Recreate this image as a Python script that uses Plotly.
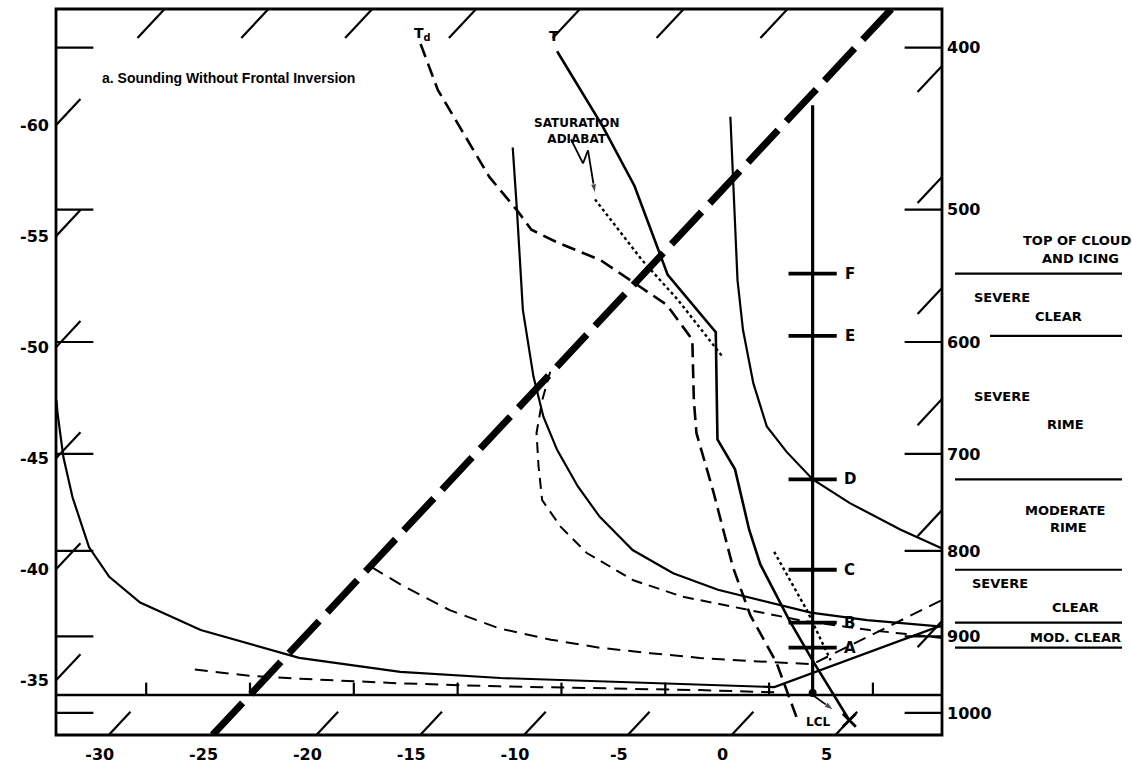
import numpy as np
import plotly.graph_objects as go

# ---------------------------------------------------------------------------
# Diagram frame: log-pressure vertical scale (hPa), skewed temperature scale
# (deg C, read on the bottom edge of the frame).
# ---------------------------------------------------------------------------
P_BOTTOM, P_TOP = 1030.8, 379.3
P_SURFACE = 975.5
SKEW = 32.7                       # isotherm displacement, deg C per ln(p)
X_LEFT, X_RIGHT = -32.54, 10.13   # bottom-scale temperature at the frame edges

# ---- sounding: temperature ----
temp_p = [402, 446, 484, 525, 547, 592, 686, 715, 777, 815, 880, 933, 1010]
temp_t = [-39.2, -33.6, -29.4, -25.7, -23.8, -18.9, -14.0, -11.8, -8.4, -6.3, -2.4, 0.7, 5.0]

# ---- sounding: dew point ----
dew_p = [398, 424, 446, 478, 501, 514, 523, 536, 570, 598, 650, 680, 738, 818, 874, 933, 1012]
dew_t = [-46.1, -43.2, -40.5, -36.8, -33.9, -32.4, -30.6, -27.7, -22.5, -19.7, -16.9,
         -15.3, -11.8, -7.5, -4.5, -1.1, 2.6]

# ---- saturation adiabat (dotted) and its lower branch ----
sat_p = [493, 536, 566, 613]
sat_t = [-30.7, -25.7, -22.2, -17.4]
dry_p = [801, 868, 930]
dry_t = [-6.2, -2.0, 1.4]

# ---- process curves ----
curve_a_p = [440, 493, 551, 590, 635, 674, 698, 725, 749, 777, 797]
curve_a_t = [-27.9, -24.0, -20.2, -17.7, -14.8, -12.2, -10.1, -7.6, -4.75, -1.1, 1.7]

curve_b_p = [459, 500, 574, 629, 665, 696, 732, 763, 799, 825, 844, 859, 871, 880, 888]
curve_b_t = [-37.0, -34.0, -29.2, -25.7, -23.4, -21.25, -18.6, -16.2, -13.1, -10.1, -7.2,
             -4.2, -1.7, 1.35, 5.3]

curve_c_p = [625, 650, 680, 712, 746, 774, 802, 833, 852, 864, 880, 892, 902]
curve_c_t = [-25.1, -24.2, -23.0, -21.4, -19.7, -17.6, -15.2, -11.7, -8.6, -5.7, -1.9, 1.9, 5.8]

curve_d_p = [818, 838, 868, 890, 904, 914, 921, 927, 931, 935, 856]
curve_d_t = [-24.9, -22.7, -19.2, -16.0, -13.0, -10.3, -7.6, -5.0, -2.4, 0.7, 4.05]

curve_e_p = [650, 661, 703, 743, 796, 829, 859, 892, 927, 945, 953, 957, 961, 965, 886]
curve_e_t = [-47.6, -47.0, -44.7, -42.45, -39.4, -37.1, -34.45, -30.3, -24.3, -18.8, -13.7,
             -8.8, -3.8, -0.1, 5.2]

curve_f_p = [942, 950, 954, 960, 964, 966, 969, 972]
curve_f_t = [-28.8, -25.9, -23.3, -18.3, -13.4, -8.5, -3.55, 0.16]

# ---- icing levels on the reference column ----
column_u = 3.9
column_top_p = 433
lcl_p = 973
level_names = ["F", "E", "D", "C", "B", "A"]
level_p = [546, 595, 725, 821, 883, 914]

# ---- scale labels ----
isobars = [400, 500, 600, 700, 800, 900, 1000]
bottom_ticks = [-30, -25, -20, -15, -10, -5, 0, 5]
left_ticks = [-60, -55, -50, -45, -40, -35]
top_strokes = [-60, -55, -50, -45, -40, -35, -30]
right_strokes = [-20, -15, -10, -5, 0, 5]
heavy_isotherm = -25

# ---- page geometry ----
W, H, ML, MT = 1132, 767, 56, 9
PW, PH = 886, 726
U_PER_PX = (X_RIGHT - X_LEFT) / PW
LN_PER_PX = np.log(P_BOTTOM / P_TOP) / PH


def sx(t, p):
    """Skewed x position of temperature t at pressure p."""
    return np.asarray(t, float) + SKEW * np.log(P_BOTTOM / np.asarray(p, float))


def p_at_edge(t, x_edge):
    """Pressure where isotherm t meets a vertical frame edge."""
    return P_BOTTOM * np.exp(-(x_edge - t) / SKEW)


def paper_y(p):
    return (np.log(P_BOTTOM) - np.log(p)) / (np.log(P_BOTTOM) - np.log(P_TOP))


def offset(u, p, dx, dy):
    """Point displaced dx pixels right and dy pixels up from (u, p)."""
    return u + dx * U_PER_PX, p * np.exp(-dy * LN_PER_PX)


def px(x, y):
    return (x - ML) / PW, (MT + PH - y) / PH


fig = go.Figure()


def add_line(x, y, width=2.2, dash="solid", yaxis="y"):
    fig.add_trace(go.Scatter(
        x=list(x), y=list(y), mode="lines", yaxis=yaxis,
        line=dict(color="black", width=width, dash=dash),
        hoverinfo="skip", showlegend=False))


def add_arrow(points, width=1.8, head=10):
    xs = [q[0] for q in points]
    ys = [q[1] for q in points]
    fig.add_trace(go.Scatter(
        x=xs, y=ys, mode="lines+markers",
        line=dict(color="black", width=width),
        marker=dict(symbol="arrow", angleref="previous", color="black",
                    size=[0] * (len(points) - 1) + [head]),
        hoverinfo="skip", showlegend=False))


def segments(pairs):
    xs, ys = [], []
    for (x0, x1), (p0, p1) in pairs:
        xs += [x0, x1, None]
        ys += [p0, p1, None]
    return xs, ys


# isotherm strokes along the frame
pairs = []
for t in top_strokes:
    ps = [P_TOP, P_TOP * np.exp(0.040)]
    pairs.append((sx([t, t], ps), ps))
for t in right_strokes:
    p0 = p_at_edge(t, X_RIGHT)
    ps = [p0, p0 * np.exp(0.036)]
    pairs.append((sx([t, t], ps), ps))
for t in bottom_ticks:
    ps = [P_BOTTOM, P_BOTTOM * np.exp(-0.032)]
    pairs.append((sx([t, t], ps), ps))
for t in bottom_ticks:
    xs0 = float(sx(t, P_SURFACE))
    pairs.append(([xs0, xs0], [P_SURFACE, P_SURFACE * np.exp(-0.017)]))
add_line(*segments(pairs), width=2.2)

left_pairs = []
for t in left_ticks:
    p0 = p_at_edge(t, X_LEFT)
    ps = [p0, p0 * np.exp(-0.036)]
    left_pairs.append((sx([t, t], ps), ps))
add_line(*segments(left_pairs), width=2.2, yaxis="y2")

# isobar stubs on both edges
stub = 1.8
pairs = []
for p in isobars:
    pairs.append(([X_LEFT, X_LEFT + stub], [p, p]))
    pairs.append(([X_RIGHT - stub, X_RIGHT], [p, p]))
add_line(*segments(pairs), width=2.2)

# surface line
add_line([X_LEFT, X_RIGHT], [P_SURFACE, P_SURFACE], width=2.5)

# heavy isotherm
add_line(sx([heavy_isotherm] * 2, [P_BOTTOM, P_TOP]), [P_BOTTOM, P_TOP],
         width=7, dash="44px,12px")

# process curves
add_line(sx(curve_a_t, curve_a_p), curve_a_p, width=2.2)
add_line(sx(curve_b_t, curve_b_p), curve_b_p, width=2.2)
add_line(sx(curve_c_t, curve_c_p), curve_c_p, width=2.0, dash="11px,7px")
add_line(sx(curve_d_t, curve_d_p), curve_d_p, width=2.0, dash="13px,8px")
add_line(sx(curve_e_t, curve_e_p), curve_e_p, width=2.2)
add_line(sx(curve_f_t, curve_f_p), curve_f_p, width=2.0, dash="13px,8px")

# saturation adiabat
add_line(sx(sat_t, sat_p), sat_p, width=2.4, dash="dot")
add_line(sx(dry_t, dry_p), dry_p, width=2.4, dash="dot")

# sounding
add_line(sx(dew_t, dew_p), dew_p, width=2.6, dash="14px,7px")
add_line(sx(temp_t, temp_p), temp_p, width=2.6)
fig.add_trace(go.Scatter(
    x=[float(sx(temp_t[-1], temp_p[-1]))], y=[temp_p[-1]], mode="markers",
    marker=dict(symbol="x-thin", size=13, line=dict(color="black", width=2.8)),
    hoverinfo="skip", showlegend=False))

# reference column with icing levels
add_line([column_u, column_u], [column_top_p, lcl_p], width=3.2)
half = 1.16
pairs = [([column_u - half, column_u + half], [p, p]) for p in level_p]
add_line(*segments(pairs), width=3.8)
fig.add_trace(go.Scatter(
    x=[column_u], y=[lcl_p], mode="markers",
    marker=dict(symbol="circle", size=8, color="black"),
    hoverinfo="skip", showlegend=False))

bold = dict(family="DejaVu Sans, Liberation Sans, sans-serif", color="black", weight="bold")
annotations = []
for name, p in zip(level_names, level_p):
    annotations.append(dict(x=column_u, y=np.log10(p), text=name, showarrow=False,
                            xshift=37, font=dict(bold, size=15)))

# sounding labels
annotations.append(dict(x=float(sx(temp_t[0], temp_p[0])), y=np.log10(temp_p[0]),
                        text="T", showarrow=False, yshift=15, xshift=-3,
                        font=dict(bold, size=14)))
annotations.append(dict(x=float(sx(dew_t[0], dew_p[0])), y=np.log10(dew_p[0]),
                        text="T<sub>d</sub>", showarrow=False, yshift=10, xshift=2,
                        font=dict(bold, size=14)))

# saturation adiabat callout
sat_x0 = float(sx(sat_t[0], sat_p[0]))
annotations.append(dict(x=sat_x0, y=np.log10(sat_p[0]), text="SATURATION<br>ADIABAT",
                        showarrow=False, xshift=-19, yshift=68,
                        font=dict(bold, size=12)))
add_arrow([offset(sat_x0, sat_p[0], dx, dy)
           for dx, dy in [(-24, 60), (-12, 36), (-7, 49), (0, 6)]])

# LCL
add_arrow([offset(column_u, lcl_p, 0, -2), offset(column_u, lcl_p, 21, -17)])
annotations.append(dict(x=column_u, y=np.log10(lcl_p), text="LCL", showarrow=False,
                        xshift=5, yshift=-29, font=dict(bold, size=12)))

# title
tx, ty = px(100, 78)
annotations.append(dict(xref="paper", yref="paper", x=tx, y=ty, xanchor="left",
                        yanchor="middle",
                        text="a. Sounding Without Frontal Inversion", showarrow=False,
                        font=dict(family="Liberation Sans Narrow, Arial Narrow, Liberation Sans, sans-serif",
                                  size=14, color="black", weight="bold")))

# icing zones beside the pressure scale
zone_text = [
    ("TOP OF CLOUD", 1077, 240), ("AND ICING", 1080, 258),
    ("SEVERE", 1002, 297), ("CLEAR", 1058, 317),
    ("SEVERE", 1002, 396), ("RIME", 1065, 424),
    ("MODERATE", 1065, 510), ("RIME", 1068, 527),
    ("SEVERE", 1000, 583), ("CLEAR", 1075, 607),
    ("MOD. CLEAR", 1075, 637),
]
for txt, x, y in zone_text:
    xx, yy = px(x, y)
    annotations.append(dict(xref="paper", yref="paper", x=xx, y=yy, text=txt,
                            xanchor="center", yanchor="middle",
                            showarrow=False, font=dict(bold, size=13)))

zone_start = {"E": px(990, 0)[0]}
x_end = px(1122, 0)[0]
for name, p in zip(level_names, level_p):
    x0 = zone_start.get(name, px(955, 0)[0])
    fig.add_shape(type="line", xref="paper", yref="paper", x0=x0, x1=x_end,
                  y0=paper_y(p), y1=paper_y(p), line=dict(color="black", width=2.2))

# frame
fig.add_shape(type="rect", xref="paper", yref="paper", x0=0, x1=1, y0=0, y1=1,
              line=dict(color="black", width=2.8))

axis_common = dict(showgrid=False, zeroline=False, showline=False, ticks="",
                   tickfont=dict(bold, size=16), fixedrange=True, automargin=False)
fig.update_layout(
    width=W, height=H,
    margin=dict(l=ML, r=W - ML - PW, t=MT, b=H - MT - PH, autoexpand=False),
    paper_bgcolor="white", plot_bgcolor="white",
    showlegend=False,
    annotations=annotations,
    xaxis=dict(axis_common, range=[X_LEFT, X_RIGHT], tickvals=bottom_ticks,
               ticktext=[str(v) for v in bottom_ticks], ticklabelshift=-9,
               ticklabelstandoff=8),
    yaxis=dict(axis_common, type="log", side="right",
               range=[np.log10(P_BOTTOM), np.log10(P_TOP)],
               tickvals=isobars, ticktext=[str(v) for v in isobars],
               ticklabelstandoff=4),
    yaxis2=dict(axis_common, type="log", side="left", overlaying="y",
                range=[np.log10(P_BOTTOM), np.log10(P_TOP)],
                tickvals=[float(p_at_edge(t, X_LEFT)) for t in left_ticks],
                ticktext=[str(v) for v in left_ticks], ticklabelstandoff=6),
)

fig.write_html("out.html")
